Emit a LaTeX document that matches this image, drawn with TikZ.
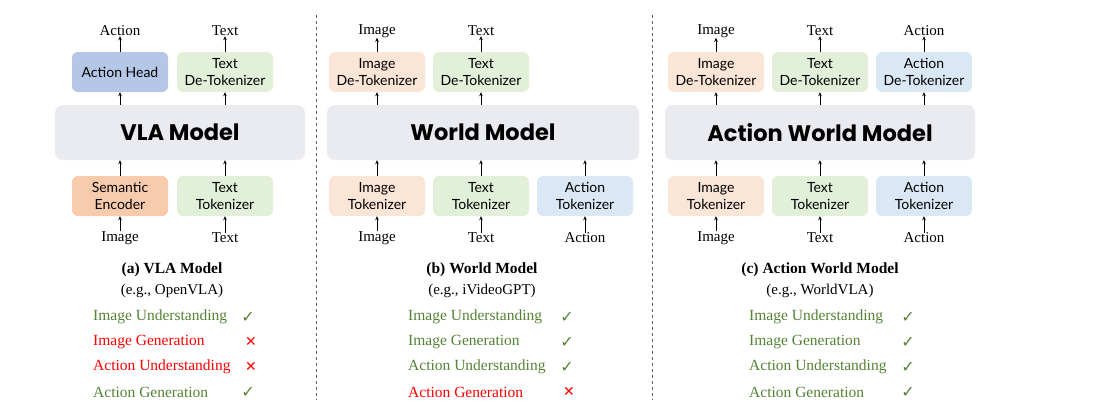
\documentclass[tikz,border=0pt]{standalone}
\usetikzlibrary{arrows.meta}
\usepackage{fontspec}
\setmainfont{Liberation Serif}
\newfontfamily\boxfont{Lato}
\newfontfamily\titlefont{Poppins}
\newfontfamily\sym{DejaVu Sans}
\definecolor{cOr}{HTML}{F8CBAD}
\definecolor{cOrL}{HTML}{FBE5D6}
\definecolor{cGr}{HTML}{E2F0D9}
\definecolor{cBl}{HTML}{DAE8F6}
\definecolor{cBlD}{HTML}{B4C7E7}
\definecolor{cMod}{HTML}{E9EBF0}
\definecolor{okG}{HTML}{548235}
\begin{document}
\begin{tikzpicture}[x=1pt,y=-1pt,
  bx/.style={draw=none,rounded corners=6pt,minimum width=96pt,minimum height=40pt,align=center,font=\boxfont\fontsize{14}{17}\selectfont,inner sep=1pt},
  md/.style={draw=none,fill=cMod,rounded corners=8pt,minimum height=55pt,font=\titlefont\bfseries\fontsize{22.5}{24}\selectfont},
  lb/.style={font=\fontsize{15}{15}\selectfont,inner sep=0pt},
  ar/.style={-{Stealth[length=4pt,width=3.5pt]},line width=0.6pt},
  row/.style={anchor=west,font=\fontsize{15.5}{16}\selectfont,inner sep=0pt},
  ok/.style={text=okG,font=\sym\fontsize{16}{16}\selectfont,inner sep=0pt},
  no/.style={text=red,font=\sym\bfseries\fontsize{14}{14}\selectfont,inner sep=0pt}]
\useasboundingbox (0,0) rectangle (1104,405);
\draw[dashed,gray!80!black,line width=0.7pt] (316,15) -- (316,400);
\draw[dashed,gray!80!black,line width=0.7pt] (652,15) -- (652,400);
% panel a
\node[md,minimum width=250pt] (ma) at (180,132.5) {VLA Model};
\node[bx,fill=cBlD] (a1) at (120,72) {Action Head};
\node[bx,fill=cGr] (a2) at (225,72) {Text\\De-Tokenizer};
\node[bx,fill=cOr] (a3) at (120,196) {Semantic\\Encoder};
\node[bx,fill=cGr] (a4) at (225,196) {Text\\Tokenizer};
\node[lb] (at1) at (120,31) {Action};
\node[lb] (at2) at (225,31) {Text};
\node[lb] (ab1) at (120,238) {Image};
\node[lb] (ab2) at (225,238) {Text};
\foreach \b/\t in {a1/at1,a2/at2}{\draw[ar] (\b.north) -- (\t.south);}
\foreach \b in {a1,a2}{\draw[ar] (\b.south|-ma.north) -- (\b.south);}
\foreach \b in {a3,a4}{\draw[ar] (\b.north) -- (\b.north|-ma.south);}
\foreach \b/\t in {a3/ab1,a4/ab2}{\draw[ar] (\t.north) -- (\b.south);}
\node[lb,font=\bfseries\fontsize{15.5}{16}\selectfont] (ca) at (172,270) {(a) VLA Model};
\node[lb] (ea) at (172,291) {(e.g., OpenVLA)};
\node[row,text=okG] (ra1) at (93,317) {Image Understanding};
\node[row,text=red] (ra2) at (93,342) {Image Generation};
\node[row,text=red] (ra3) at (93,367) {Action Understanding};
\node[row,text=okG] (ra4) at (93,392) {Action Generation};
\node[ok] (sa1) at (248,317) {✓};
\node[no] (sa2) at (251,342) {✕};
\node[no] (sa3) at (251,367) {✕};
\node[ok] (sa4) at (248,392) {✓};
% panel b
\node[md,minimum width=312pt] (mb) at (483,132.5) {World Model};
\node[bx,fill=cOrL] (b1) at (377,72) {Image\\De-Tokenizer};
\node[bx,fill=cGr] (b2) at (481,72) {Text\\De-Tokenizer};
\node[bx,fill=cOrL] (b3) at (377,196) {Image\\Tokenizer};
\node[bx,fill=cGr] (b4) at (481,196) {Text\\Tokenizer};
\node[bx,fill=cBl] (b5) at (585,196) {Action\\Tokenizer};
\node[lb] (bt1) at (377,31) {Image};
\node[lb] (bt2) at (481,31) {Text};
\node[lb] (bb1) at (377,238) {Image};
\node[lb] (bb2) at (481,238) {Text};
\node[lb] (bb3) at (585,238) {Action};
\foreach \b/\t in {b1/bt1,b2/bt2}{\draw[ar] (\b.north) -- (\t.south);}
\foreach \b in {b1,b2}{\draw[ar] (\b.south|-mb.north) -- (\b.south);}
\foreach \b in {b3,b4,b5}{\draw[ar] (\b.north) -- (\b.north|-mb.south);}
\foreach \b/\t in {b3/bb1,b4/bb2,b5/bb3}{\draw[ar] (\t.north) -- (\b.south);}
\node[lb,font=\bfseries\fontsize{15.5}{16}\selectfont] (cb) at (482,270) {(b) World Model};
\node[lb] (eb) at (482,291) {(e.g., iVideoGPT)};
\node[row,text=okG] (rb1) at (408,317) {Image Understanding};
\node[row,text=okG] (rb2) at (408,342) {Image Generation};
\node[row,text=okG] (rb3) at (408,367) {Action Understanding};
\node[row,text=red] (rb4) at (408,392) {Action Generation};
\node[ok] (sb1) at (567,317) {✓};
\node[ok] (sb2) at (567,342) {✓};
\node[ok] (sb3) at (567,367) {✓};
\node[no] (sb4) at (569,392) {✕};
% panel c
\node[md,minimum width=310pt] (mc) at (820,132.5) {Action World Model};
\node[bx,fill=cOrL] (c1) at (716,72) {Image\\De-Tokenizer};
\node[bx,fill=cGr] (c2) at (820,72) {Text\\De-Tokenizer};
\node[bx,fill=cBl] (c3) at (924,72) {Action\\De-Tokenizer};
\node[bx,fill=cOrL] (c4) at (716,196) {Image\\Tokenizer};
\node[bx,fill=cGr] (c5) at (820,196) {Text\\Tokenizer};
\node[bx,fill=cBl] (c6) at (924,196) {Action\\Tokenizer};
\node[lb] (ct1) at (716,31) {Image};
\node[lb] (ct2) at (820,31) {Text};
\node[lb] (ct3) at (924,31) {Action};
\node[lb] (cb1) at (716,238) {Image};
\node[lb] (cb2) at (820,238) {Text};
\node[lb] (cb3) at (924,238) {Action};
\foreach \b/\t in {c1/ct1,c2/ct2,c3/ct3}{\draw[ar] (\b.north) -- (\t.south);}
\foreach \b in {c1,c2,c3}{\draw[ar] (\b.south|-mc.north) -- (\b.south);}
\foreach \b in {c4,c5,c6}{\draw[ar] (\b.north) -- (\b.north|-mc.south);}
\foreach \b/\t in {c4/cb1,c5/cb2,c6/cb3}{\draw[ar] (\t.north) -- (\b.south);}
\node[lb,font=\bfseries\fontsize{15.5}{16}\selectfont] (cc) at (820,270) {(c) Action World Model};
\node[lb] (ec) at (820,291) {(e.g., WorldVLA)};
\node[row,text=okG] (rc1) at (749,317) {Image Understanding};
\node[row,text=okG] (rc2) at (749,342) {Image Generation};
\node[row,text=okG] (rc3) at (749,367) {Action Understanding};
\node[row,text=okG] (rc4) at (749,392) {Action Generation};
\node[ok] (sc1) at (908,317) {✓};
\node[ok] (sc2) at (908,342) {✓};
\node[ok] (sc3) at (908,367) {✓};
\node[ok] (sc4) at (908,392) {✓};
\end{tikzpicture}
\end{document}
